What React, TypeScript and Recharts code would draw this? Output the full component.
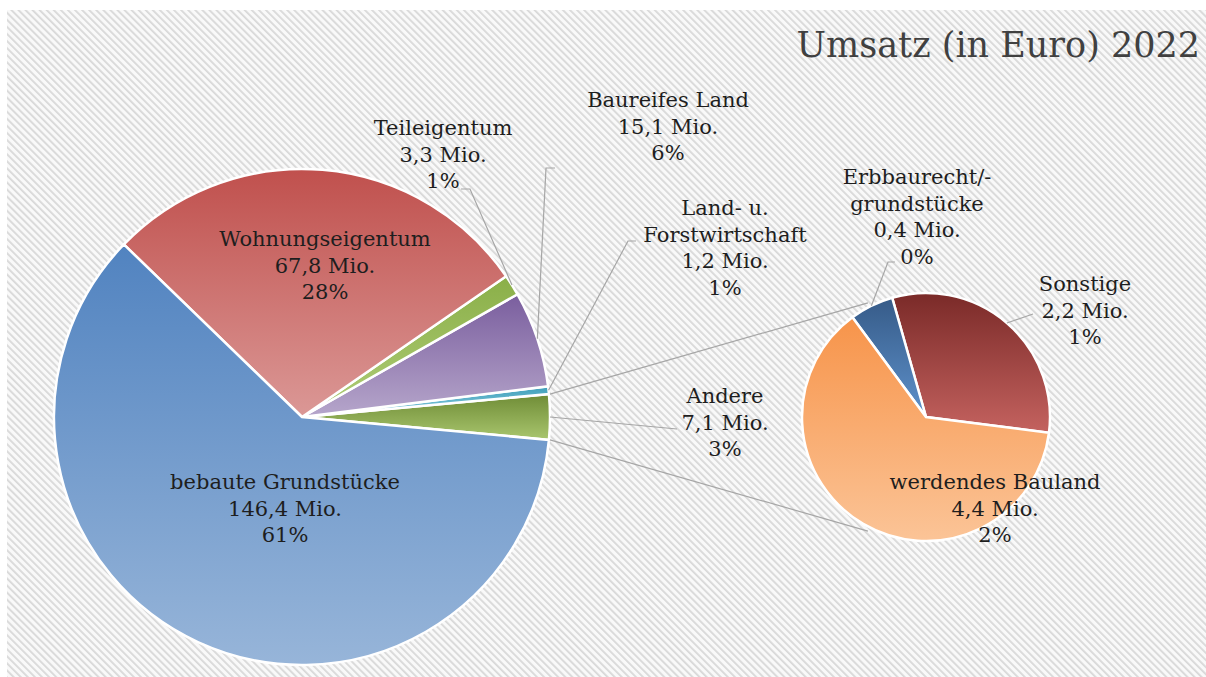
import React from "react";
import { PieChart, Pie, Cell } from "recharts";

// main pie, counter-clockwise starting with the "Andere" slice on the right
const mainNames = [
  "Andere",
  "Land- u.\nForstwirtschaft",
  "Baureifes Land",
  "Teileigentum",
  "Wohnungseigentum",
  "bebaute Grundstücke",
];
const mainValues = [7.1, 1.2, 15.1, 3.3, 67.8, 146.4];
const mainPercents = ["3%", "1%", "6%", "1%", "28%", "61%"];

// second pie: breakdown of "Andere"
const subNames = ["Sonstige", "Erbbaurecht/-\ngrundstücke", "werdendes Bauland"];
const subValues = [2.2, 0.4, 4.4];
const subPercents = ["1%", "0%", "2%"];

const mainData = mainNames.map((name, i) => ({ name, value: mainValues[i], pct: mainPercents[i] }));
const subData = subNames.map((name, i) => ({ name, value: subValues[i], pct: subPercents[i] }));

const W = 1206;
const H = 677;
const MAIN = { cx: 302, cy: 417, r: 248 };
const SUB = { cx: 926, cy: 417, r: 124 };
const FONT = "DejaVu Serif";
const LINE_H = 26.5;

const mainTotal = mainValues.reduce((a, b) => a + b, 0);
const mainStart = -(mainValues[0] / mainTotal) * 180;

const mainGrad = [
  ["#6f8c36", "#a9c66e"],
  ["#3f9fba", "#8fd0e2"],
  ["#7a5e9e", "#b6a6cb"],
  ["#8aaf48", "#b0cd78"],
  ["#c0504d", "#db9896"],
  ["#5183c0", "#97b5d9"],
];
const subGrad = [
  ["#7a2a28", "#c4625f"],
  ["#365b88", "#5e91cb"],
  ["#f7944a", "#fbc497"],
];

// label layout: text centre x, first line centre y, leader points (from slice edge outwards)
const mainLayout = [
  { x: 725, y: 396, leader: [[677, 429]] },
  { x: 725, y: 208, leader: [[628, 241], [636, 241]] },
  { x: 668, y: 100, leader: [[546, 168], [555, 168]] },
  { x: 443, y: 128, leader: [[470, 189], [461, 189]] },
  { x: 325, y: 239, leader: [] },
  { x: 285, y: 482, leader: [] },
];
const subLayout = [
  { x: 1085, y: 284, leader: [[1033, 314]] },
  { x: 917, y: 177, leader: [[888, 262], [895, 262]] },
  { x: 995, y: 482, leader: [] },
];

const RAD = Math.PI / 180;
const polar = (cx: number, cy: number, r: number, a: number) => [cx + r * Math.cos(-a * RAD), cy + r * Math.sin(-a * RAD)];

const fmt = (v: number) => v.toFixed(1).replace(".", ",") + " Mio.";

function LabelBlock({ p, layout }: { p: any; layout: any[] }) {
  const l = layout[p.index];
  const lines = [...String(p.name).split("\n"), fmt(p.value), p.payload?.pct ?? p.pct];
  const edge = polar(p.cx, p.cy, p.outerRadius, p.midAngle);
  const pts = [edge, ...l.leader];
  return (
    <g>
      {l.leader.length > 0 && (
        <polyline points={pts.map((q: number[]) => q.join(",")).join(" ")} fill="none" stroke="#a6a6a6" strokeWidth={1.2} />
      )}
      {lines.map((t: string, k: number) => (
        <text
          key={k}
          x={l.x}
          y={l.y + k * LINE_H}
          textAnchor="middle"
          dominantBaseline="central"
          fontFamily={FONT}
          fontSize={21}
          fill="#1e1e1e"
        >
          {t}
        </text>
      ))}
    </g>
  );
}

const renderMainLabel = (p: any) => {
  const block = <LabelBlock p={p} layout={mainLayout} />;
  if (p.index !== 0) return block;
  // connector lines from the "Andere" slice to the second pie
  const top = polar(p.cx, p.cy, p.outerRadius, p.endAngle);
  const bot = polar(p.cx, p.cy, p.outerRadius, p.startAngle);
  const topSub = polar(SUB.cx, SUB.cy, SUB.r + 4, 117);
  const botSub = polar(SUB.cx, SUB.cy, SUB.r + 4, 243);
  return (
    <g>
      <line x1={top[0] + 1} y1={top[1]} x2={topSub[0]} y2={topSub[1]} stroke="#a6a6a6" strokeWidth={1.2} />
      <line x1={bot[0] + 1} y1={bot[1]} x2={botSub[0]} y2={botSub[1]} stroke="#a6a6a6" strokeWidth={1.2} />
      {block}
    </g>
  );
};

const renderSubLabel = (p: any) => <LabelBlock p={p} layout={subLayout} />;

export default function App() {
  return (
    <div style={{ position: "absolute", left: 0, top: 0, width: W, height: H, background: "#fff" }}>
      <svg width={W} height={H} style={{ position: "absolute", left: 0, top: 0 }}>
        <defs>
          <pattern id="hatch" width={5} height={5} patternUnits="userSpaceOnUse" patternTransform="rotate(-45)">
            <rect width={5} height={5} fill="#f9f9f9" />
            <rect width={1.8} height={5} fill="#d8d8d8" />
          </pattern>
          {mainGrad.map((g, i) => (
            <linearGradient key={"m" + i} id={"mg" + i} x1="0" y1="0" x2="0" y2="1">
              <stop offset="0%" stopColor={g[0]} />
              <stop offset="100%" stopColor={g[1]} />
            </linearGradient>
          ))}
          {subGrad.map((g, i) => (
            <linearGradient key={"s" + i} id={"sg" + i} x1="0" y1="0" x2="0" y2="1">
              <stop offset="0%" stopColor={g[0]} />
              <stop offset="100%" stopColor={g[1]} />
            </linearGradient>
          ))}
        </defs>
        <rect x={7} y={10} width={W - 7} height={H - 10} fill="url(#hatch)" />
        <text x={1200} y={57} textAnchor="end" fontFamily={FONT} fontSize={35} fill="#404040">
          Umsatz (in Euro) 2022
        </text>
      </svg>
      <div style={{ position: "absolute", left: 0, top: 0 }}>
        <PieChart width={W} height={H} margin={{ top: 0, right: 0, bottom: 0, left: 0 }}>
          <Pie
            data={mainData}
            dataKey="value"
            nameKey="name"
            cx={MAIN.cx}
            cy={MAIN.cy}
            outerRadius={MAIN.r}
            startAngle={mainStart}
            endAngle={mainStart + 360}
            stroke="#ffffff"
            strokeWidth={2.5}
            label={renderMainLabel}
            labelLine={false}
            isAnimationActive={false}
          >
            {mainData.map((d, i) => (
              <Cell key={d.name} fill={`url(#mg${i})`} />
            ))}
          </Pie>
          <Pie
            data={subData}
            dataKey="value"
            nameKey="name"
            cx={SUB.cx}
            cy={SUB.cy}
            outerRadius={SUB.r}
            startAngle={-7.3}
            endAngle={352.7}
            stroke="#ffffff"
            strokeWidth={2.5}
            label={renderSubLabel}
            labelLine={false}
            isAnimationActive={false}
          >
            {subData.map((d, i) => (
              <Cell key={d.name} fill={`url(#sg${i})`} />
            ))}
          </Pie>
        </PieChart>
      </div>
    </div>
  );
}
